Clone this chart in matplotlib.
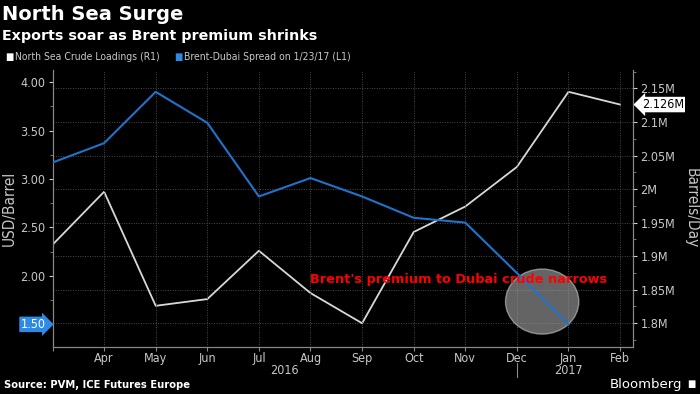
import matplotlib
matplotlib.use("Agg")
import matplotlib.pyplot as plt
import matplotlib.transforms as mtransforms
from matplotlib import font_manager
from matplotlib.patches import Ellipse
from matplotlib.ticker import MultipleLocator, FuncFormatter

# months from Mar 2016 to Feb 2017
months=["Mar","Apr","May","Jun","Jul","Aug","Sep","Oct","Nov","Dec","Jan","Feb"]
years=["2016","2017"]

# North Sea crude loadings, million barrels/day (right axis)
loadings=[1.917,1.996,1.826,1.836,1.908,1.845,1.800,1.936,1.974,2.033,2.145,2.126]

# Brent-Dubai spread, USD/barrel (left axis), ends in Jan
spread=[3.17,3.37,3.90,3.58,2.82,3.01,2.82,2.60,2.55,2.03,1.50]

BG="#000000"
TXT="#c8c8c8"
BLUE="#1f73cc"
WHITE="#d8d8d8"
GRID="#4a4a4a"

# pick a narrow font if one is there
fonts=font_manager.fontManager.ttflist
names={f.name for f in fonts}
stretch="normal"
if "Liberation Sans Narrow" in names:
    NARROW="Liberation Sans Narrow"
elif any(f.name=="DejaVu Sans" and f.stretch in ("condensed","semi-condensed") for f in fonts):
    NARROW="DejaVu Sans"
    stretch="condensed"
else:
    NARROW="Liberation Sans"

plt.rcParams["font.family"]=[NARROW,"DejaVu Sans"]
plt.rcParams["font.stretch"]=stretch

fig=plt.figure(figsize=(7,3.94),dpi=100,facecolor=BG)
ax=fig.add_axes([0.075,0.12,0.830,0.702])
ax.set_facecolor(BG)
ax2=ax.twinx()

x_load=list(range(len(loadings)))
x_spread=list(range(len(spread)))

ax.set_xlim(0,11.26)
ax.set_ylim(1.269,4.124)
ax2.set_ylim(1.765,2.1773)

# grid follows right axis ticks and months
ax2.yaxis.set_major_locator(MultipleLocator(0.05))
ax2.yaxis.set_minor_locator(MultipleLocator(0.025))
ax2.grid(axis="y",color=GRID,linestyle=(0,(1,1.5)),linewidth=0.7)
ax.set_xticks(range(len(months)))
ax.set_xticklabels([""]+months[1:])
ax.grid(axis="x",color=GRID,linestyle=(0,(1,1.5)),linewidth=0.7)

ax.yaxis.set_major_locator(MultipleLocator(0.5))
ax.yaxis.set_minor_locator(MultipleLocator(0.25))
ax.yaxis.set_major_formatter(FuncFormatter(lambda v,p: f"{v:.2f}"))
ax2.yaxis.set_major_formatter(FuncFormatter(lambda v,p: f"{round(v,3):g}M"))

circle=Ellipse((9.49,1.735),1.42,0.671,facecolor="#a8a8a8",alpha=0.6,
               edgecolor="#c8c8c8",linewidth=1.0,zorder=3)

ax.add_patch(circle)
ax.plot(x_spread,spread,color=BLUE,linewidth=1.5,zorder=4)
ax2.plot(x_load,loadings,color=WHITE,linewidth=1.3,zorder=4)
ax.set_zorder(ax2.get_zorder()+1)
ax.patch.set_visible(False)

for a in (ax,ax2):
    a.spines["top"].set_visible(False)
    for s in ("left","right","bottom"):
        a.spines[s].set_color("#8a8a8a")
        a.spines[s].set_linewidth(0.8)
    a.tick_params(colors="#cccccc",labelcolor=TXT,labelsize=9,length=3,width=0.8,pad=2)
    a.tick_params(which="minor",colors="#8a8a8a",length=2,width=0.6)
ax.tick_params(axis="x",colors="#8a8a8a",labelcolor=TXT,pad=1)

ax.set_ylabel("USD/Barrel",color=TXT,fontsize=11,va="center")
ax2.set_ylabel("Barrels/Day",color=TXT,fontsize=11,rotation=270,va="center")
ax.yaxis.set_label_coords(-0.074,0.5)
ax2.yaxis.set_label_coords(1.100,0.5)

# year labels and separator under the month axis
tr_year=mtransforms.blended_transform_factory(ax.transData,ax.transAxes)
ax.text(4.5,-0.087,years[0],transform=tr_year,ha="center",va="center",color=TXT,fontsize=9)
ax.text(10,-0.087,years[1],transform=tr_year,ha="center",va="center",color=TXT,fontsize=9)
ax.plot([9,9],[-0.058,-0.108],color="#8a8a8a",linewidth=0.8,clip_on=False,transform=tr_year)

# last value tags
tr_left=mtransforms.blended_transform_factory(ax.transAxes,ax.transData)
ax.text(-0.012,spread[-1],f"{spread[-1]:.2f}",transform=tr_left,ha="right",va="center",
        color="white",fontsize=9,
        bbox=dict(boxstyle="rarrow,pad=0.1",facecolor="#2d8ae6",edgecolor="none"))
tr_right=mtransforms.blended_transform_factory(ax2.transAxes,ax2.transData)
ax2.text(1.014,loadings[-1],f"{loadings[-1]:.3f}M",transform=tr_right,ha="left",va="center",
         color="black",fontsize=9,
         bbox=dict(boxstyle="larrow,pad=0.1",facecolor="white",edgecolor="none"))

ax.text(5.0,1.965,"Brent's premium to Dubai crude narrows",color="#ff0000",
        fontsize=9.3,fontweight="bold",family="DejaVu Sans",stretch="normal",
        ha="left",va="center",zorder=6)

fig.text(0.003,0.962,"North Sea Surge",color="white",fontsize=14,fontweight="bold",
         family="DejaVu Sans",stretch="normal",ha="left",va="center")
fig.text(0.003,0.908,"Exports soar as Brent premium shrinks",color="white",fontsize=10.3,
         fontweight="bold",family="DejaVu Sans",stretch="normal",ha="left",va="center")

# legend
fig.text(0.007,0.855,"\u25A0",color="white",fontsize=7,ha="left",va="center",family="DejaVu Sans")
fig.text(0.021,0.855,"North Sea Crude Loadings (R1)",color=TXT,fontsize=7.5,ha="left",va="center")
fig.text(0.249,0.855,"\u25A0",color="#2d8ae6",fontsize=7,ha="left",va="center",family="DejaVu Sans")
fig.text(0.263,0.855,"Brent-Dubai Spread on 1/23/17 (L1)",color=TXT,fontsize=7.5,ha="left",va="center")

fig.text(0.005,0.022,"Source: PVM, ICE Futures Europe",color="white",fontsize=8,
         fontweight="bold",ha="left",va="center")
fig.text(0.975,0.025,"Bloomberg",color="white",fontsize=9.5,ha="right",va="center",
         family="DejaVu Sans",stretch="normal")
fig.text(0.982,0.025,"\u25A0",color="white",fontsize=7,ha="left",va="center",family="DejaVu Sans")

fig.savefig("out.png",dpi=100,facecolor=BG)
